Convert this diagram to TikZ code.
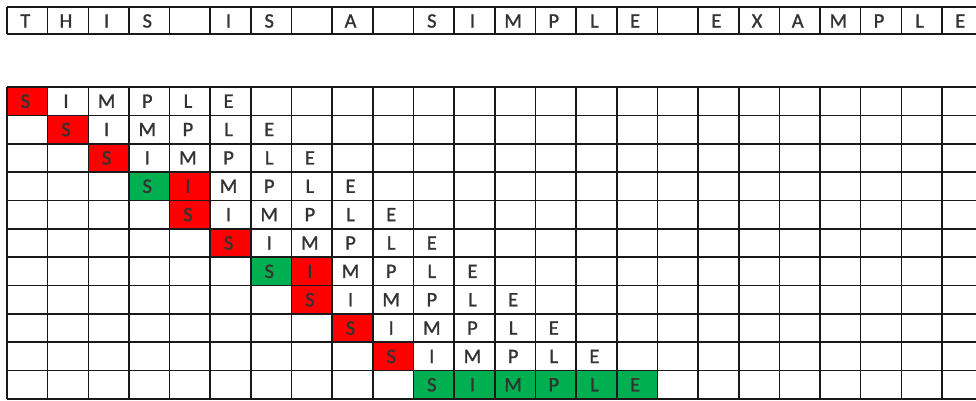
\documentclass[tikz,border=0pt]{standalone}
\usepackage{fontspec}
\setmainfont{Carlito}
\newfontfamily\cellfont{Carlito}[RawFeature={embolden=1.2}]
\definecolor{hitred}{RGB}{255,0,0}
\definecolor{matchgreen}{RGB}{0,176,80}
\definecolor{ink}{HTML}{333333}
\begin{document}
\begin{tikzpicture}[x=1pt,y=-1pt,
 letter/.style={font=\cellfont\fontsize{20.5}{24}\selectfont,text=ink,inner sep=0pt},
 gridline/.style={line width=1.6pt,black!90}]
 \useasboundingbox(0,0)rectangle(976,400);
 \clip(0,0)rectangle(976,400);
 % coloured cells (col/row/colour)
 \foreach \c/\r/\col in {1/1/hitred,2/2/hitred,3/3/hitred,4/4/matchgreen,5/4/hitred,5/5/hitred,6/6/hitred,
   7/7/matchgreen,8/7/hitred,8/8/hitred,9/9/hitred,10/10/hitred,
   11/11/matchgreen,12/11/matchgreen,13/11/matchgreen,14/11/matchgreen,15/11/matchgreen,16/11/matchgreen}
  {\fill[\col]({7+(\c-1)*40.65},{87+(\r-1)*28.36})rectangle++(40.65,28.36);}
 % grid lines
 \foreach \k in {0,...,24}{\draw[gridline]({7+\k*40.65},7)--++(0,27);\draw[gridline]({7+\k*40.65},87)--++(0,312);}
 \draw[gridline](7,7)--(990,7);\draw[gridline](7,34)--(990,34);
 \foreach \r in {0,...,11}{\draw[gridline](7,{87+\r*28.36})--(990,{87+\r*28.36});}
 % header text
 \foreach \l [count=\k] in {T,H,I,S,{},I,S,{},A,{},S,I,M,P,L,E,{},E,X,A,M,P,L,E}
  {\node[letter](t\k)at({7+(\k-0.5)*40.65-2},21){\l};}
 % shifted words
 \foreach \r in {1,...,11}{\foreach \l [count=\i] in {S,I,M,P,L,E}
  {\node[letter](w\r-\i)at({7+(\r+\i-1.5)*40.65-2},{87+(\r-0.5)*28.36}){\l};}}
\end{tikzpicture}
\end{document}
